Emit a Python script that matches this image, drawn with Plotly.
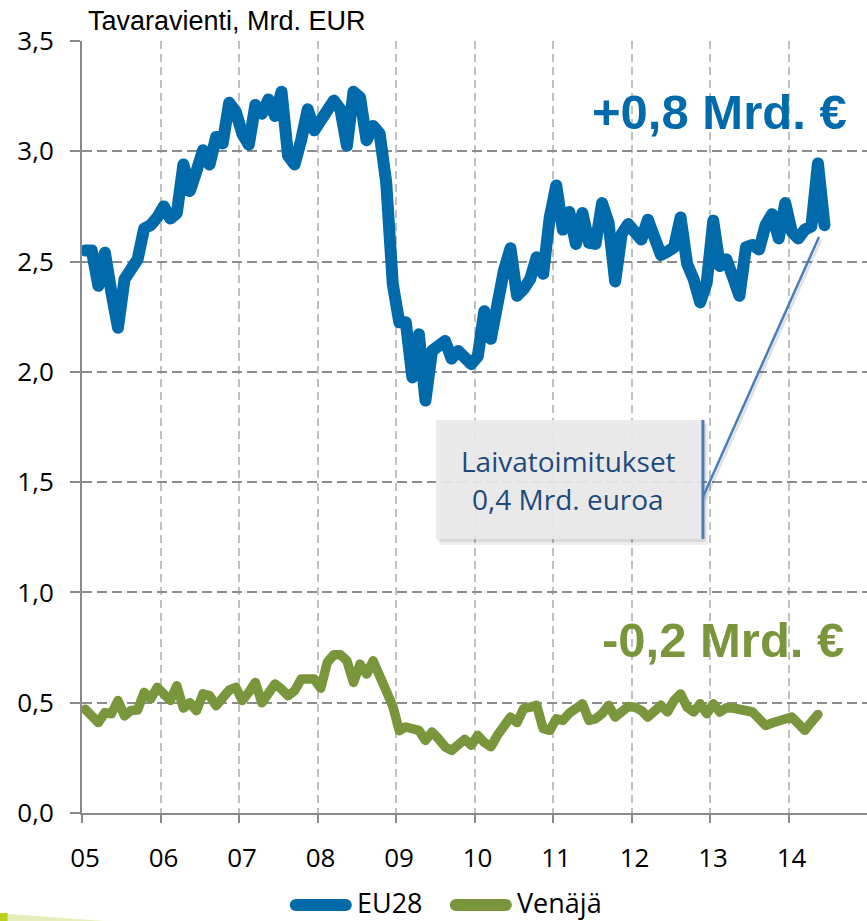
import pandas as pd
import plotly.graph_objects as go

# ---------------- data ----------------
months = pd.period_range("2005-01", "2014-06", freq="M")

eu28 = [2.55, 2.55, 2.39, 2.54, 2.36, 2.20, 2.42, 2.48, 2.51, 2.65, 2.665, 2.70,     # 2005
        2.75, 2.695, 2.72, 2.94, 2.82, 2.91, 3.005, 2.94, 3.065, 3.035, 3.22, 3.18,  # 2006
        3.08, 3.03, 3.21, 3.17, 3.235, 3.16, 3.27, 2.98, 2.94, 3.05, 3.19, 3.095,    # 2007
        3.14, 3.19, 3.23, 3.19, 3.025, 3.27, 3.245, 3.05, 3.115, 3.08, 2.86, 2.40,   # 2008
        2.225, 2.225, 1.975, 2.17, 1.87, 2.095, 2.11, 2.14, 2.06, 2.095, 2.065, 2.035,  # 2009
        2.07, 2.275, 2.15, 2.32, 2.46, 2.56, 2.345, 2.375, 2.42, 2.52, 2.445, 2.70,  # 2010
        2.845, 2.645, 2.725, 2.58, 2.72, 2.585, 2.58, 2.765, 2.675, 2.41, 2.625, 2.67,  # 2011
        2.64, 2.60, 2.69, 2.60, 2.53, 2.545, 2.565, 2.70, 2.49, 2.42, 2.315, 2.405,  # 2012
        2.685, 2.48, 2.51, 2.43, 2.345, 2.565, 2.575, 2.555, 2.665, 2.715, 2.605, 2.765,  # 2013
        2.635, 2.605, 2.645, 2.66, 2.945, 2.665]                                     # 2014

venaja = [0.47, 0.44, 0.41, 0.455, 0.45, 0.51, 0.44, 0.465, 0.467, 0.547, 0.517, 0.57,   # 2005
          0.54, 0.51, 0.577, 0.476, 0.50, 0.464, 0.54, 0.532, 0.486, 0.517, 0.557, 0.57,  # 2006
          0.51, 0.547, 0.592, 0.50, 0.54, 0.585, 0.562, 0.532, 0.554, 0.607, 0.607, 0.607,  # 2007
          0.566, 0.683, 0.718, 0.718, 0.69, 0.592, 0.675, 0.63, 0.69, 0.63, 0.562, 0.486,  # 2008
          0.373, 0.39, 0.382, 0.375, 0.329, 0.367, 0.337, 0.30, 0.284, 0.317, 0.334, 0.307,  # 2009
          0.352, 0.32, 0.30, 0.352, 0.397, 0.435, 0.41, 0.473, 0.48, 0.488, 0.382, 0.375,  # 2010
          0.427, 0.42, 0.453, 0.468, 0.495, 0.42, 0.427, 0.45, 0.488, 0.435, 0.458, 0.483,  # 2011
          0.48, 0.465, 0.435, 0.468, 0.488, 0.458, 0.51, 0.54, 0.48, 0.458, 0.495, 0.45,  # 2012
          0.495, 0.458, 0.477, 0.476, 0.473, 0.465, 0.458, 0.427, 0.397, 0.408, 0.42, 0.432,  # 2013
          0.435, 0.405, 0.375, 0.412, 0.447]                                             # 2014

tick_years = list(range(2005, 2015))
tick_labels = ["05", "06", "07", "08", "09", "10", "11", "12", "13", "14"]

series_names = ["EU28", "Venäjä"]
title_text = "Tavaravienti, Mrd. EUR"
eu_note = "+0,8 Mrd. €"
ru_note = "-0,2 Mrd. €"
box_lines = ["Laivatoimitukset", "0,4 Mrd. euroa"]

# ---------------- style ----------------
BLUE = "#006AAB"
GREEN = "#7A963C"
BOXBLUE = "#4A7EBB"
TXTBLUE = "#1F497D"
W, H = 867, 921
ML, MT, MB = 82.3, 41, 108
PW, PH = W - ML, H - MT - MB


def px(x):  # pixel x -> paper
    return (x - ML) / PW


def py(y):  # pixel y -> paper
    return (H - MB - y) / PH


# mid-month positions in decimal years
xpos = [p.year + (p.month - 0.5) / 12 for p in months]

fig = go.Figure()
fig.add_trace(go.Scatter(x=xpos, y=eu28, mode="lines", name=series_names[0],
                         line=dict(color=BLUE, width=12)))
fig.add_trace(go.Scatter(x=xpos[:len(venaja)], y=venaja, mode="lines", name=series_names[1],
                         line=dict(color=GREEN, width=9.5)))

axis_grey = "#8A8A8A"
tick_font = dict(family="Open Sans", size=26, color="#000000")

fig.update_xaxes(range=[2005, 2015], tickmode="array", tickvals=tick_years, ticktext=tick_labels,
                 showgrid=True, gridcolor="#C0C0C0", gridwidth=1.5, griddash="8px,5px",
                 showline=True, linecolor=axis_grey, linewidth=2,
                 ticks="outside", ticklen=8, tickwidth=2, tickcolor=axis_grey,
                 tickfont=tick_font, ticklabelstandoff=13, ticklabelshift=3, zeroline=False)
fig.update_yaxes(range=[0, 3.5], tick0=0, dtick=0.5, tickformat=".1f",
                 showgrid=True, gridcolor="#8C8C8C", gridwidth=2, griddash="10px,5px",
                 showline=True, linecolor=axis_grey, linewidth=2,
                 ticks="outside", ticklen=10, tickwidth=2, tickcolor=axis_grey,
                 tickfont=tick_font, ticklabelstandoff=11, zeroline=False)

shapes = []
# callout box shadow + box
shapes.append(dict(type="rect", xref="paper", yref="paper", layer="above",
                   x0=px(440), x1=px(708), y0=py(545), y1=py(424),
                   fillcolor="rgba(0,0,0,0.07)", line=dict(width=0)))
shapes.append(dict(type="rect", xref="paper", yref="paper", layer="above",
                   x0=px(438), x1=px(706), y0=py(542), y1=py(422),
                   fillcolor="rgba(0,0,0,0.08)", line=dict(width=0)))
shapes.append(dict(type="rect", xref="paper", yref="paper", layer="above",
                   x0=px(436), x1=px(703), y0=py(539), y1=py(420),
                   fillcolor="rgba(234,234,234,0.93)", line=dict(width=0)))
shapes.append(dict(type="line", xref="paper", yref="paper", layer="above",
                   x0=px(703), x1=px(703), y0=py(539), y1=py(420),
                   line=dict(color=BOXBLUE, width=3)))
# pointer
shapes.append(dict(type="line", xref="paper", yref="paper", layer="above",
                   x0=px(705), x1=px(821), y0=py(500), y1=py(240),
                   line=dict(color="rgba(0,0,0,0.12)", width=2.5)))
shapes.append(dict(type="line", xref="paper", yref="paper", layer="above",
                   x0=px(703), x1=px(819), y0=py(497), y1=py(237),
                   line=dict(color=BOXBLUE, width=2.5)))

# legend symbols (rounded bars)
for (xa, xb, col) in [(296, 346, BLUE), (456, 506, GREEN)]:
    shapes.append(dict(type="line", xref="paper", yref="paper",
                       x0=px(xa), x1=px(xb), y0=py(905), y1=py(905),
                       line=dict(color=col, width=12)))
    for xc in (xa, xb):
        shapes.append(dict(type="circle", xref="paper", yref="paper",
                           xsizemode="pixel", ysizemode="pixel",
                           xanchor=px(xc), yanchor=py(905),
                           x0=-6, x1=6, y0=-6, y1=6,
                           fillcolor=col, line=dict(width=0)))

# small lime decoration bottom-left
shapes.append(dict(type="path", xref="paper", yref="paper",
                   path=f"M {px(8)} {py(914)} L {px(105)} {py(921)} L {px(8)} {py(921)} Z",
                   fillcolor="#E6EDBA", line=dict(width=0)))
shapes.append(dict(type="rect", xref="paper", yref="paper",
                   x0=px(0), x1=px(8), y0=py(921), y1=py(913),
                   fillcolor="#BCD01E", line=dict(width=0)))

annotations = [
    dict(text=title_text, xref="paper", yref="paper", x=px(86), y=py(21),
         xanchor="left", yanchor="middle", showarrow=False,
         font=dict(family="Liberation Sans", size=27, color="#000000")),
    dict(text=f"<b>{eu_note}</b>", xref="paper", yref="paper", x=px(720), y=py(112),
         xanchor="center", yanchor="middle", showarrow=False,
         font=dict(family="Liberation Sans", size=49, color=BLUE)),
    dict(text=f"<b>{ru_note}</b>", xref="paper", yref="paper", x=px(723), y=py(640),
         xanchor="center", yanchor="middle", showarrow=False,
         font=dict(family="Liberation Sans", size=49, color=GREEN)),
    dict(text=box_lines[0], xref="paper", yref="paper", x=px(568.5), y=py(461),
         xanchor="center", yanchor="middle", showarrow=False,
         font=dict(family="Open Sans", size=28, color=TXTBLUE)),
    dict(text=box_lines[1], xref="paper", yref="paper", x=px(568.5), y=py(499),
         xanchor="center", yanchor="middle", showarrow=False,
         font=dict(family="Open Sans", size=28, color=TXTBLUE)),
    dict(text=series_names[0], xref="paper", yref="paper", x=px(355), y=py(902),
         xanchor="left", yanchor="middle", showarrow=False,
         font=dict(family="Open Sans", size=27, color="#000000")),
    dict(text=series_names[1], xref="paper", yref="paper", x=px(515), y=py(902),
         xanchor="left", yanchor="middle", showarrow=False,
         font=dict(family="Open Sans", size=27, color="#000000")),
]

fig.update_layout(width=W, height=H, margin=dict(l=ML, r=0, t=MT, b=MB, pad=0),
                  plot_bgcolor="white", paper_bgcolor="white", showlegend=False,
                  separators=", ", shapes=shapes, annotations=annotations)

post = ("var s=document.createElement('style');"
        "s.innerHTML='html,body{margin:0;padding:0;overflow:hidden;}"
        ".scatterlayer .js-line{stroke-linejoin:round;stroke-linecap:round;}';"
        "document.head.appendChild(s);")
fig.write_html("out.html", post_script=post, config={"displayModeBar": False})
